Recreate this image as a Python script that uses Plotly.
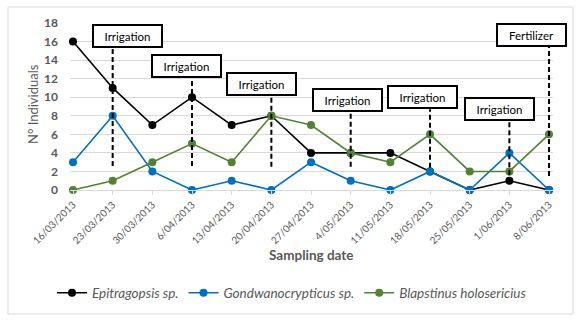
import plotly.graph_objects as go

dates = ["16/03/2013", "23/03/2013", "30/03/2013", "6/04/2013", "13/04/2013",
         "20/04/2013", "27/04/2013", "4/05/2013", "11/05/2013", "18/05/2013",
         "25/05/2013", "1/06/2013", "8/06/2013"]
epitragopsis = [16, 11, 7, 10, 7, 8, 4, 4, 4, 2, 0, 1, 0]
gondwanocrypticus = [3, 8, 2, 0, 1, 0, 3, 1, 0, 2, 0, 4, 0]
blapstinus = [0, 1, 3, 5, 3, 8, 7, 4, 3, 6, 2, 2, 6]

series_names = ["Epitragopsis sp.", "Gondwanocrypticus sp.", "Blapstinus holosericius"]
series_colors = ["#000000", "#0070C0", "#538135"]

# management events: category index, label, label box centre, dashed line bottom
event_idx = [1, 3, 5, 7, 9, 11, 12]
event_labels = ["Irrigation"] * 6 + ["Fertilizer"]
event_box_x = [1.37, 2.87, 4.74, 6.91, 8.81, 10.75, 11.57]
event_box_y = [16.6, 13.4, 11.4, 9.75, 10.0, 8.7, 16.7]
event_line_bottom = [2.6, 2.6, 2.5, 2.5, 2.4, 1.6, 1.5]

fig = go.Figure()
for name, vals, col in zip(series_names, [epitragopsis, gondwanocrypticus, blapstinus], series_colors):
    fig.add_trace(go.Scatter(
        x=list(range(len(dates))), y=vals, name=name, mode="lines+markers",
        line=dict(color=col, width=1.6),
        marker=dict(color=col, size=8, line=dict(width=0)),
        cliponaxis=False,
    ))

unit = 167 / 18.0
for i, lab, bx, by, lb in zip(event_idx, event_labels, event_box_x, event_box_y, event_line_bottom):
    fig.add_shape(type="line", xref="x", yref="y", x0=i, x1=i,
                  y0=lb, y1=by - 12 / unit,
                  line=dict(color="black", width=2, dash="5px,3px"), layer="above")
    fig.add_annotation(x=bx, y=by, xref="x", yref="y", text=lab, showarrow=False,
                       xanchor="center", yanchor="middle",
                       font=dict(family="Lato, Open Sans, sans-serif", size=11.5, color="#000000"),
                       bgcolor="white", bordercolor="black", borderwidth=2, borderpad=0,
                       width=67, height=20)

L, R, T, B = 70, 31, 23, 134
PW, PH = 584 - L - R, 324 - T - B

def px_x(p):
    return (p - L) / PW

def px_y(p):
    return (324 - B - p) / PH

fig.add_shape(type="rect", xref="paper", yref="paper",
              x0=px_x(8), x1=px_x(573), y0=px_y(314), y1=px_y(7),
              line=dict(color="#D9D9D9", width=1), fillcolor="rgba(0,0,0,0)", layer="below")

fig.add_annotation(xref="paper", yref="paper", x=px_x(33), y=px_y(104),
                   xanchor="center", yanchor="middle",
                   text="N° Individuals", textangle=-90, showarrow=False,
                   font=dict(family="Lato, sans-serif", size=13, color="#595959"))
fig.add_annotation(xref="paper", yref="paper", x=px_x(311), y=px_y(255),
                   xanchor="center", yanchor="middle",
                   text="<b>Sampling date</b>", showarrow=False,
                   font=dict(family="Lato, sans-serif", size=13.5, color="#595959"))

fig.update_layout(
    width=584, height=324,
    margin=dict(l=L, r=R, t=T, b=B),
    plot_bgcolor="white", paper_bgcolor="white",
    font=dict(family="Lato, sans-serif", color="#595959"),
    showlegend=True,
    legend=dict(orientation="h", x=px_x(52), xanchor="left", y=px_y(293), yanchor="middle",
                font=dict(size=13.5, color="#595959", style="italic"),
                itemwidth=30, tracegroupgap=0, bgcolor="rgba(0,0,0,0)"),
    xaxis=dict(
        tickmode="array", tickvals=list(range(len(dates))), ticktext=dates,
        range=[-0.0756, 12.1], tickangle=-45, showgrid=False,
        showline=True, linecolor="#D9D9D9", linewidth=1,
        ticks="outside", ticklen=4, tickcolor="#D9D9D9",
        tickfont=dict(size=10, color="#595959"), zeroline=False,
    ),
    yaxis=dict(
        range=[0, 18], tickmode="array", tickvals=list(range(0, 19, 2)),
        ticktext=[f"<b>{v}</b>" for v in range(0, 19, 2)],
        showgrid=True, gridcolor="#D9D9D9", gridwidth=1, zeroline=False,
        showline=False, ticks="", ticklabelstandoff=11,
        tickfont=dict(size=12, color="#595959"),
    ),
)

fig.write_html("out.html")
